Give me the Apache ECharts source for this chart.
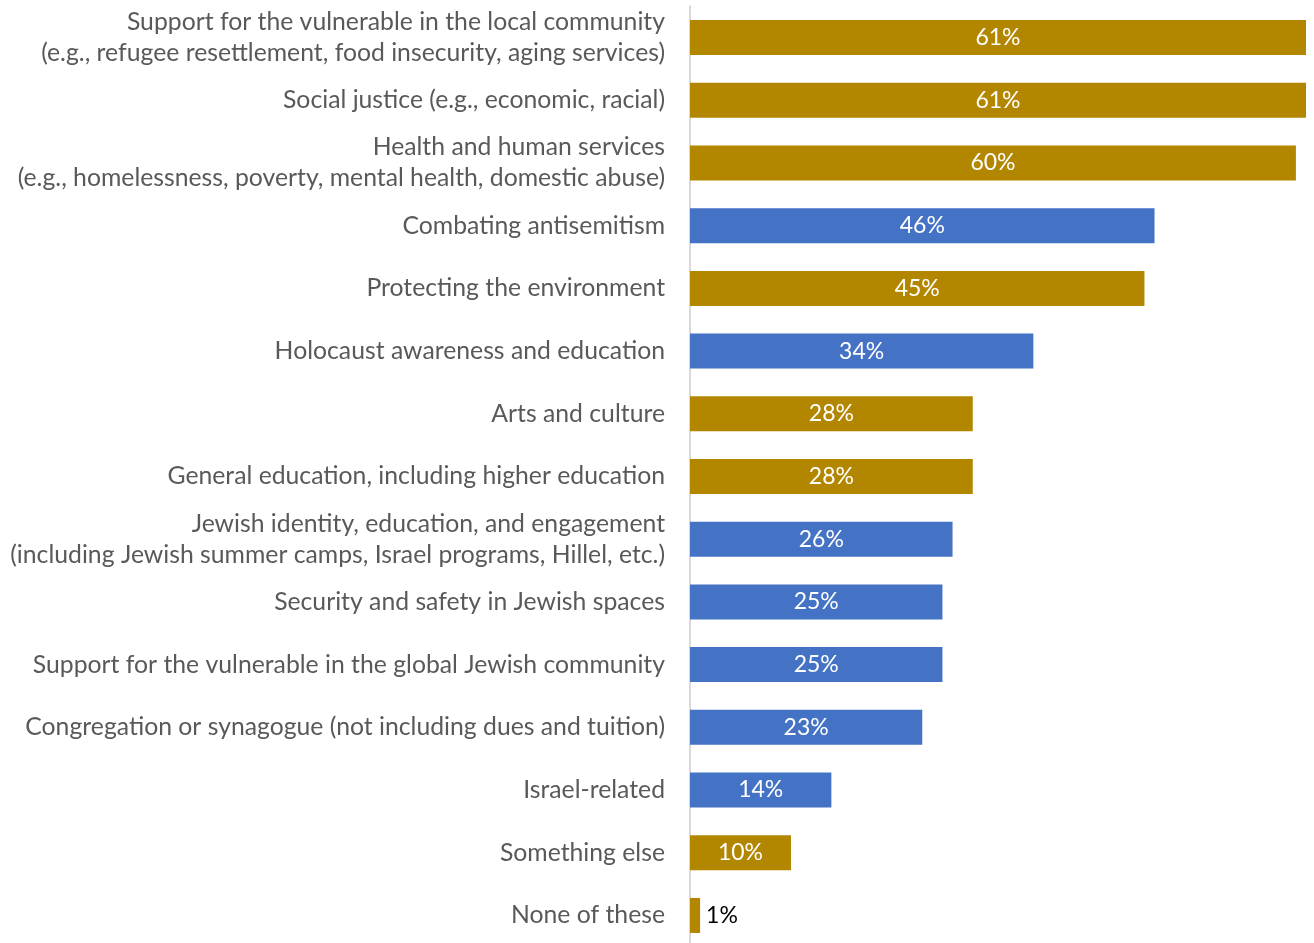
<!DOCTYPE html>
<html>
<head>
<meta charset="utf-8">
<script src="https://cdn.jsdelivr.net/npm/echarts@6/dist/echarts.min.js"></script>
<style>
  html, body { margin: 0; padding: 0; background: #fff; width: 1314px; height: 943px; overflow: hidden; }
  /* canvas runs a few px past the bottom edge so the last row keeps its full band */
  #chart { width: 1314px; height: 952px; }
</style>
</head>
<body>
<div id="chart"></div>
<script>
// Causes supported, top to bottom
const categories = [
  'Support for the vulnerable in the local community\n(e.g., refugee resettlement, food insecurity, aging services)',
  'Social justice (e.g., economic, racial)',
  'Health and human services\n(e.g., homelessness, poverty, mental health, domestic abuse)',
  'Combating antisemitism',
  'Protecting the environment',
  'Holocaust awareness and education',
  'Arts and culture',
  'General education, including higher education',
  'Jewish identity, education, and engagement\n(including Jewish summer camps, Israel programs, Hillel, etc.)',
  'Security and safety in Jewish spaces',
  'Support for the vulnerable in the global Jewish community',
  'Congregation or synagogue (not including dues and tuition)',
  'Israel-related',
  'Something else',
  'None of these'
];
const shares = [61, 61, 60, 46, 45, 34, 28, 28, 26, 25, 25, 23, 14, 10, 1];
// 'jewish' causes in blue, general causes in gold
const causeType = ['general', 'general', 'general', 'jewish', 'general', 'jewish', 'general', 'general',
  'jewish', 'jewish', 'jewish', 'jewish', 'jewish', 'general', 'general'];

const GOLD = '#B38600';
const BLUE = '#4472C4';
const FONT = 'Lato';

const chart = echarts.init(document.getElementById('chart'));
chart.setOption({
  animation: false,
  grid: { left: 690, right: 8, top: 6.2, height: 940.6, containLabel: false },
  xAxis: {
    type: 'value', min: 0, max: 61,
    show: false
  },
  yAxis: {
    type: 'category',
    data: categories,
    inverse: true,
    axisLine: { show: true, lineStyle: { color: '#d9d9d9', width: 2 } },
    axisTick: { show: false },
    axisLabel: {
      margin: 25,
      color: '#595959',
      fontFamily: FONT,
      fontSize: 24.75,
      lineHeight: 31,
      align: 'right'
    }
  },
  series: [{
    type: 'bar',
    barWidth: 35,
    data: shares.map((v, i) => ({
      value: v,
      itemStyle: { color: causeType[i] === 'jewish' ? BLUE : GOLD },
      label: v < 5
        ? { position: 'right', color: '#000', distance: 6 }
        : { position: 'inside', color: '#fff' }
    })),
    label: {
      show: true,
      fontFamily: FONT,
      fontSize: 23,
      formatter: p => p.value + '%'
    }
  }]
});
</script>
</body>
</html>
